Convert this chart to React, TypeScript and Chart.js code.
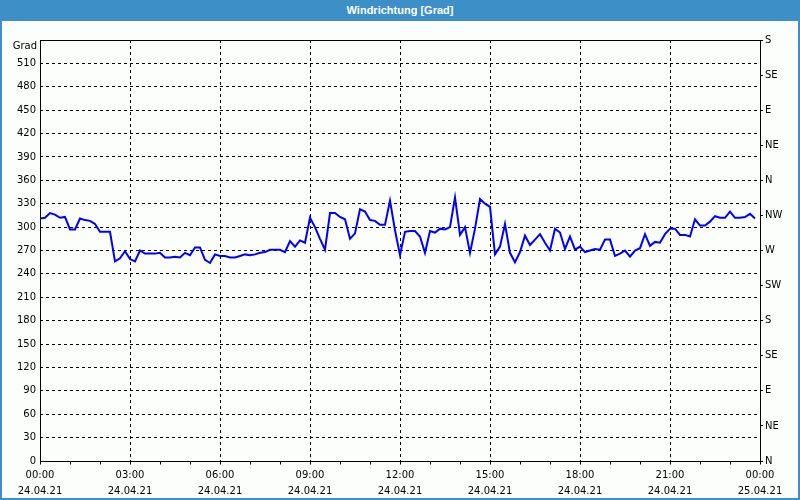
import { useEffect, useRef } from "react";
import { Chart, registerables } from "chart.js";

Chart.register(...registerables);

const TITLE = "Windrichtung [Grad]";
const Y_UNIT_LABEL = "Grad";
const SAMPLE_MINUTES = 10;
const X_MAX_MINUTES = 1440;
const X_STEP_MINUTES = 180;

const X_TICK_TIMES = ["00:00", "03:00", "06:00", "09:00", "12:00", "15:00", "18:00", "21:00", "00:00"];
const X_TICK_DATES = ["24.04.21", "24.04.21", "24.04.21", "24.04.21", "24.04.21", "24.04.21", "24.04.21", "24.04.21", "25.04.21"];

const COMPASS_LABELS = ["N", "NE", "E", "SE", "S", "SW", "W", "NW", "N", "NE", "E", "SE", "S"];

// Wind direction in degrees, one value every 10 minutes from 00:00 to 23:50
const WIND_DIR = [
  311, 312, 318, 316, 312, 313, 297, 297, 311, 309,
  308, 304, 294, 294, 294, 256, 260, 269, 259, 256,
  270, 266, 266, 266, 267, 261, 261, 262, 261, 267,
  264, 274, 274, 258, 254, 265, 263, 263, 261, 261,
  263, 265, 264, 265, 267, 268, 271, 271, 271, 268,
  282, 275, 283, 280, 312, 300, 285, 271, 318, 318,
  313, 310, 285, 292, 323, 320, 309, 308, 303, 303,
  334, 296, 264, 294, 295, 295, 288, 267, 295, 293,
  298, 297, 300, 338, 290, 300, 267, 298, 336, 330,
  326, 265, 275, 304, 267, 255, 268, 289, 277, 284,
  291, 280, 270, 298, 293, 272, 288, 271, 275, 268,
  270, 272, 271, 284, 284, 263, 266, 270, 262, 270,
  273, 291, 276, 281, 280, 291, 298, 298, 290, 290,
  288, 310, 302, 302, 307, 314, 312, 312, 320, 312,
  312, 313, 317, 311,
];

const FONT_FAMILY = "'DejaVu Sans', Tahoma, sans-serif";

const framePlugin = {
  id: "frameAndMinorTicks",
  afterDraw(chart: any) {
    const { ctx, chartArea } = chart;
    const xScale = chart.scales.x;
    const l = Math.round(chartArea.left) + 0.5;
    const r = Math.round(chartArea.right) + 0.5;
    const t = Math.round(chartArea.top) + 0.5;
    const b = Math.round(chartArea.bottom) + 0.5;
    ctx.save();
    ctx.strokeStyle = "#000";
    ctx.lineWidth = 1;
    ctx.setLineDash([]);
    ctx.beginPath();
    ctx.rect(l, t, r - l, b - t);
    ctx.stroke();
    ctx.beginPath();
    for (let m = 0; m <= X_MAX_MINUTES; m += 60) {
      const px = Math.round(xScale.getPixelForValue(m)) + 0.5;
      ctx.moveTo(px, b);
      ctx.lineTo(px, b + 3);
    }
    ctx.stroke();
    // unit label at the top of the left axis
    ctx.fillStyle = "#000";
    ctx.font = `10px ${FONT_FAMILY}`;
    ctx.textAlign = "right";
    ctx.textBaseline = "middle";
    ctx.fillText(Y_UNIT_LABEL, chartArea.left - 3, chartArea.top + 6);
    ctx.restore();
  },
};

export default function App() {
  const canvasRef = useRef<HTMLCanvasElement | null>(null);

  useEffect(() => {
    if (!canvasRef.current) return;
    const data = WIND_DIR.map((v, i) => ({ x: i * SAMPLE_MINUTES, y: v }));
    const chart = new Chart(canvasRef.current, {
      type: "line",
      data: {
        datasets: [
          {
            label: TITLE,
            data,
            borderColor: "#0000ff",
            borderWidth: 2,
            pointRadius: 0,
            tension: 0,
            fill: false,
          },
        ],
      },
      options: {
        animation: false,
        responsive: false,
        maintainAspectRatio: false,
        layout: { padding: { top: 19, left: 0, right: 0, bottom: 0 } },
        plugins: {
          legend: { display: false },
          tooltip: { enabled: false },
          title: { display: false },
        },
        scales: {
          x: {
            type: "linear",
            min: 0,
            max: X_MAX_MINUTES,
            border: { display: false, dash: [3, 3] },
            grid: {
              color: "#000",
              lineWidth: 1,
              drawTicks: false,
              tickLength: 0,
            },
            ticks: {
              stepSize: X_STEP_MINUTES,
              autoSkip: false,
              maxRotation: 0,
              minRotation: 0,
              padding: 7,
              color: "#000",
              font: { family: FONT_FAMILY, size: 10, lineHeight: 1.55 },
              callback: (v: any) => {
                const idx = Math.round(Number(v) / X_STEP_MINUTES);
                return [X_TICK_TIMES[idx], X_TICK_DATES[idx]];
              },
            },
            afterFit: (scale: any) => {
              scale.height = 37;
            },
          },
          y: {
            type: "linear",
            position: "left",
            min: 0,
            max: 540,
            border: { display: false, dash: [3, 3] },
            grid: {
              color: "#000",
              lineWidth: 1,
              drawTicks: false,
              tickLength: 0,
            },
            ticks: {
              stepSize: 30,
              maxTicksLimit: 100,
              autoSkip: false,
              padding: 4,
              color: "#000",
              font: { family: FONT_FAMILY, size: 10 },
              callback: (v: any) => (Number(v) === 540 ? "" : String(v)),
            },
            afterFit: (scale: any) => {
              scale.width = 38;
            },
          },
          y2: {
            type: "linear",
            position: "right",
            min: 0,
            max: 540,
            border: { display: false },
            grid: {
              drawOnChartArea: false,
              drawTicks: true,
              tickLength: 3,
              color: "#000",
            },
            ticks: {
              stepSize: 45,
              maxTicksLimit: 100,
              autoSkip: false,
              padding: 2,
              color: "#000",
              font: { family: FONT_FAMILY, size: 10 },
              callback: (v: any) => COMPASS_LABELS[Math.round(Number(v) / 45)],
            },
            afterFit: (scale: any) => {
              scale.width = 38;
            },
          },
        },
      },
      plugins: [framePlugin],
    });
    return () => chart.destroy();
  }, []);

  return (
    <div
      style={{
        position: "fixed",
        left: 0,
        top: 0,
        width: 800,
        height: 500,
        background: "#3c8fc7",
        overflow: "hidden",
      }}
    >
      <div
        style={{
          position: "absolute",
          left: 0,
          top: 0,
          width: 800,
          height: 21,
          lineHeight: "21px",
          textAlign: "center",
          color: "#ffffff",
          fontFamily: "'Liberation Sans', Arial, sans-serif",
          fontWeight: "bold",
          fontSize: 11,
        }}
      >
        {TITLE}
      </div>
      <div
        style={{
          position: "absolute",
          left: 2,
          top: 21,
          width: 796,
          height: 477,
          background: "#fcfefc",
        }}
      >
        <canvas ref={canvasRef} width={796} height={477} style={{ display: "block" }} />
      </div>
    </div>
  );
}
